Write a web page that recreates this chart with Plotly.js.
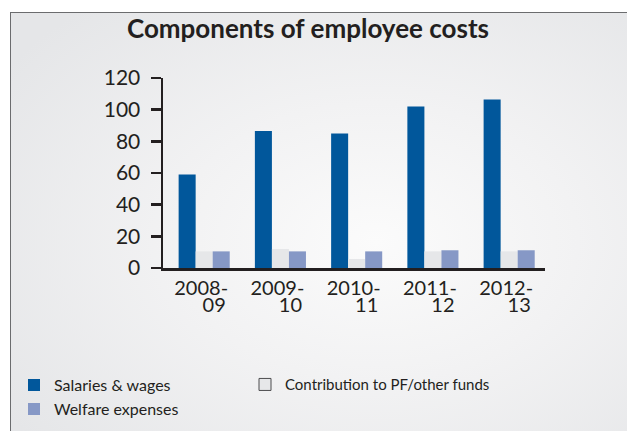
<!DOCTYPE html>
<html>
<head>
<meta charset="utf-8">
<script src="https://cdn.plot.ly/plotly-3.0.1.min.js"></script>
<style>
html,body{margin:0;padding:0;background:#ffffff;width:627px;height:431px;overflow:hidden;}
#frame{position:absolute;left:10px;top:12px;width:640px;height:440px;border:1.5px solid #6b6c6e;
  background:radial-gradient(ellipse 70% 70% at 57% 52%, #fbfbfb 0%, #f2f2f3 45%, #e5e6e8 100%);}
#chart{position:absolute;left:0;top:0;width:627px;height:431px;}
</style>
</head>
<body>
<div id="frame"></div>
<div id="chart"></div>
<script>
// ---- data ----
const categories = ["2008-09", "2009-10", "2010-11", "2011-12", "2012-13"];
const tickLine1 = ["2008-", "2009-", "2010-", "2011-", "2012-"];
const tickLine2 = ["09", "10", "11", "12", "13"];
const tickPositions = [0, 1, 2, 3, 4];
const salaries = [59, 86.5, 85, 102, 106.5];
const contribution = [10.5, 12, 5.7, 10.5, 10.5];
const welfare = [10.5, 10.5, 10.5, 11.2, 11.2];
const yTicks = [0, 20, 40, 60, 80, 100, 120];

const ink = "#231f20";
const font = "Lato, 'Open Sans', sans-serif";

const traces = [
  {type: "bar", name: "Salaries & wages", x: categories, y: salaries,
   marker: {color: "#01579b"}, offsetgroup: "a", legend: "legend", legendrank: 1, hoverinfo: "skip"},
  {type: "bar", name: "Contribution to PF/other funds", x: categories, y: contribution,
   marker: {color: "#e6e7e9"}, offsetgroup: "b", showlegend: false, hoverinfo: "skip"},
  {type: "bar", name: "Welfare expenses", x: categories, y: welfare,
   marker: {color: "#8698c6"}, offsetgroup: "c", legend: "legend", legendrank: 2, hoverinfo: "skip"},
  // legend-only entry (outlined swatch), sits on the overlay axis that carries the 2nd tick line
  {type: "bar", name: "Contribution to PF/other funds", x: [null], y: [null], xaxis: "x2", yaxis: "y",
   marker: {color: "#e6e7e9", line: {color: "#4d4d4f", width: 1}},
   legend: "legend2", showlegend: true, hoverinfo: "skip"}
];

const layout = {
  width: 627, height: 431,
  margin: {l: 163, r: 82, t: 78, b: 163, pad: 0, autoexpand: false},
  paper_bgcolor: "rgba(0,0,0,0)",
  plot_bgcolor: "rgba(0,0,0,0)",
  barmode: "group",
  bargap: 0.33,
  bargroupgap: 0,
  title: {text: "<b>Components of employee costs</b>", font: {family: font, size: 26, color: ink},
          x: 308 / 627, xanchor: "center", xref: "container", y: 1 - 38 / 431, yanchor: "bottom", yref: "container"},
  xaxis: {
    type: "category", range: [-0.54, 4.47], fixedrange: true,
    showline: true, linecolor: ink, linewidth: 2.5, showgrid: false, zeroline: false,
    ticks: "", tickmode: "array", tickvals: categories, ticktext: tickLine1,
    tickfont: {family: font, size: 20, color: ink}, tickangle: 0,
    ticklabelstandoff: 0, ticklabelshift: -3
  },
  xaxis2: {
    type: "linear", overlaying: "x", anchor: "y", side: "bottom", range: [-0.54, 4.47], fixedrange: true,
    showline: false, showgrid: false, zeroline: false, ticks: "",
    tickmode: "array", tickvals: tickPositions, ticktext: tickLine2,
    tickfont: {family: font, size: 20, color: ink}, tickangle: 0,
    ticklabelstandoff: 23, ticklabelshift: 10
  },
  yaxis: {
    range: [0, 120], fixedrange: true,
    showline: true, linecolor: ink, linewidth: 2.5, showgrid: false, zeroline: false,
    ticks: "outside", ticklen: 10, tickwidth: 2.5, tickcolor: ink,
    tickmode: "array", tickvals: yTicks,
    tickfont: {family: font, size: 21, color: ink}, ticklabelstandoff: 6
  },
  legend: {
    orientation: "v", x: (14 - 163) / 382, xanchor: "left", y: (268.3 - 368.5) / 190, yanchor: "top",
    font: {family: font, size: 16, color: ink}, bgcolor: "rgba(0,0,0,0)",
    itemwidth: 30, traceorder: "normal", tracegroupgap: 0
  },
  legend2: {
    orientation: "v", x: (245 - 163) / 382, xanchor: "left", y: (268.3 - 368.5) / 190, yanchor: "top",
    font: {family: font, size: 15, color: ink}, bgcolor: "rgba(0,0,0,0)",
    itemwidth: 30
  },
  showlegend: true
};

Plotly.newPlot("chart", traces, layout, {displayModeBar: false, staticPlot: true});
</script>
</body>
</html>
